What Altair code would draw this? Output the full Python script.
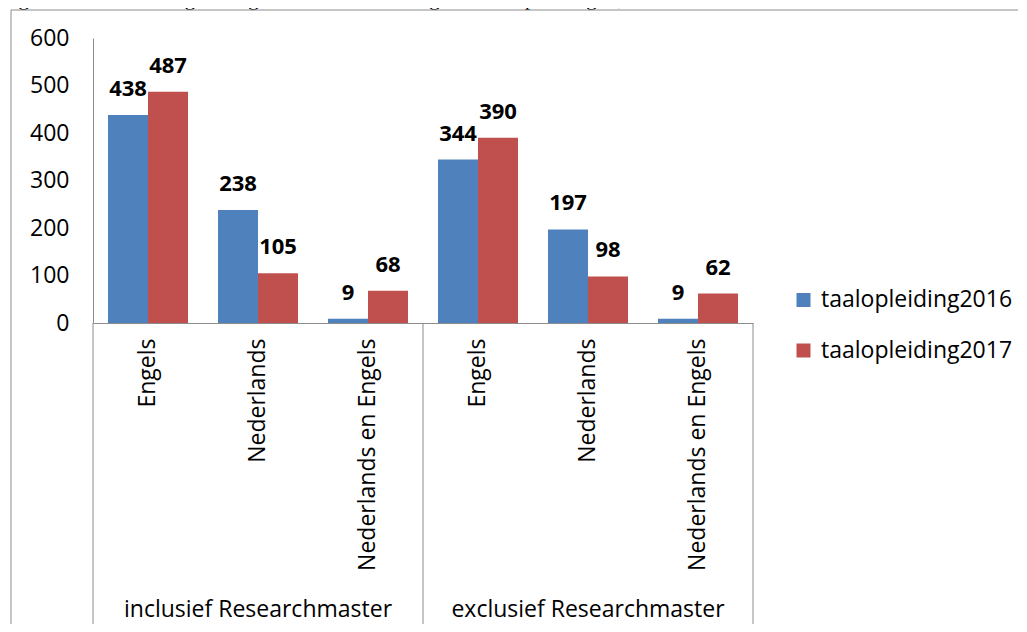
import altair as alt
import pandas as pd

title_text = "Figuur 6.5 Aantal Engelstalige en Nederlandstalige masteropleidingen, 2016 en 2017"
groups = ["inclusief Researchmaster", "exclusief Researchmaster"]
categories = ["Engels", "Nederlands", "Nederlands en Engels"]
series = ["taalopleiding2016", "taalopleiding2017"]
values_2016 = [438, 238, 9, 344, 197, 9]
values_2017 = [487, 105, 68, 390, 98, 62]
y_ticks = [0, 100, 200, 300, 400, 500, 600]
colors = ["#4F81BD", "#C0504D"]

FONT = "Open Sans"
FS = 23
GRAY = "#8C8C8C"

keys = [g + "|" + c for g in groups for c in categories]
rows = []
for i, k in enumerate(keys):
    rows.append({"key": k, "series": series[0], "value": values_2016[i]})
    rows.append({"key": k, "series": series[1], "value": values_2017[i]})
df = pd.DataFrame(rows)

xscale = alt.Scale(domain=keys, paddingInner=30 / 110, paddingOuter=15 / 110)
x_enc = alt.X(
    "key:N",
    sort=keys,
    scale=xscale,
    title=None,
    axis=alt.Axis(
        labelExpr="split(datum.label, '|')[1]",
        labelAngle=-90,
        labelPadding=15,
        labelFontSize=FS,
        labelFont=FONT,
        labelColor="#000000",
        ticks=False,
        domainColor=GRAY,
        labelLimit=400,
    ),
)
xoff = alt.XOffset("series:N", sort=series, scale=alt.Scale(paddingInner=0, paddingOuter=0))
yscale = alt.Scale(domain=[0, 600], nice=False)
y_enc = alt.Y(
    "value:Q",
    scale=yscale,
    title=None,
    axis=alt.Axis(
        values=y_ticks,
        ticks=False,
        grid=False,
        domainColor=GRAY,
        labelFontSize=FS,
        labelFont=FONT,
        labelColor="#000000",
        labelPadding=24,
    ),
)

bars = alt.Chart(df).mark_bar().encode(
    x=x_enc,
    xOffset=xoff,
    y=y_enc,
    color=alt.Color(
        "series:N",
        scale=alt.Scale(domain=series, range=colors),
        title=None,
        legend=alt.Legend(
            orient="none",
            legendX=699,
            legendY=250.5,
            symbolType="square",
            symbolSize=196,
            symbolStrokeWidth=0,
            labelFontSize=FS,
            labelFont=FONT,
            labelColor="#000000",
            labelOffset=6,
            rowPadding=26.5,
            labelLimit=400,
        ),
    ),
)

labels = (
    alt.Chart(df)
    .mark_text(dy=-19, baseline="alphabetic", fontWeight="bold", fontSize=22, font=FONT, color="#000000")
    .encode(
        x=alt.X("key:N", sort=keys, scale=xscale),
        xOffset=xoff,
        y=alt.Y("value:Q", scale=yscale),
        text="value:Q",
    )
)

gdf = pd.DataFrame({"group": groups, "key": [g + "|" + categories[1] for g in groups]})
group_labels = alt.Chart(gdf).mark_text(fontSize=FS, font=FONT, baseline="alphabetic", color="#000000").encode(
    x=alt.X("key:N", sort=keys, scale=xscale),
    y=alt.value(579),
    text="group:N",
)

one = pd.DataFrame({"t": [title_text]})
title = alt.Chart(one).mark_text(
    fontSize=22, font="Liberation Sans Narrow", align="left", baseline="alphabetic", color="#000000"
).encode(x=alt.value(-93), y=alt.value(-33), text="t:N")

seps = [
    alt.Chart(one).mark_rule(color=GRAY, strokeWidth=1).encode(x=alt.value(xv), y=alt.value(285), y2=alt.value(600))
    for xv in [0, 330, 660]
]
frame_left = alt.Chart(one).mark_rule(color=GRAY, strokeWidth=1).encode(
    x=alt.value(-82), y=alt.value(-28), y2=alt.value(620)
)
frame_top = alt.Chart(one).mark_rule(color=GRAY, strokeWidth=1).encode(
    x=alt.value(-82), x2=alt.value(1000), y=alt.value(-28)
)

chart = (
    alt.layer(bars, labels, group_labels, title, *seps, frame_left, frame_top)
    .properties(
        width=660,
        height=285,
        autosize=alt.AutoSizeParams(type="none"),
        padding={"left": 85, "top": 30, "right": 265, "bottom": 301},
    )
    .configure_view(stroke=None)
)

chart.save("out.html", embed_options={"renderer": "svg", "actions": False})
